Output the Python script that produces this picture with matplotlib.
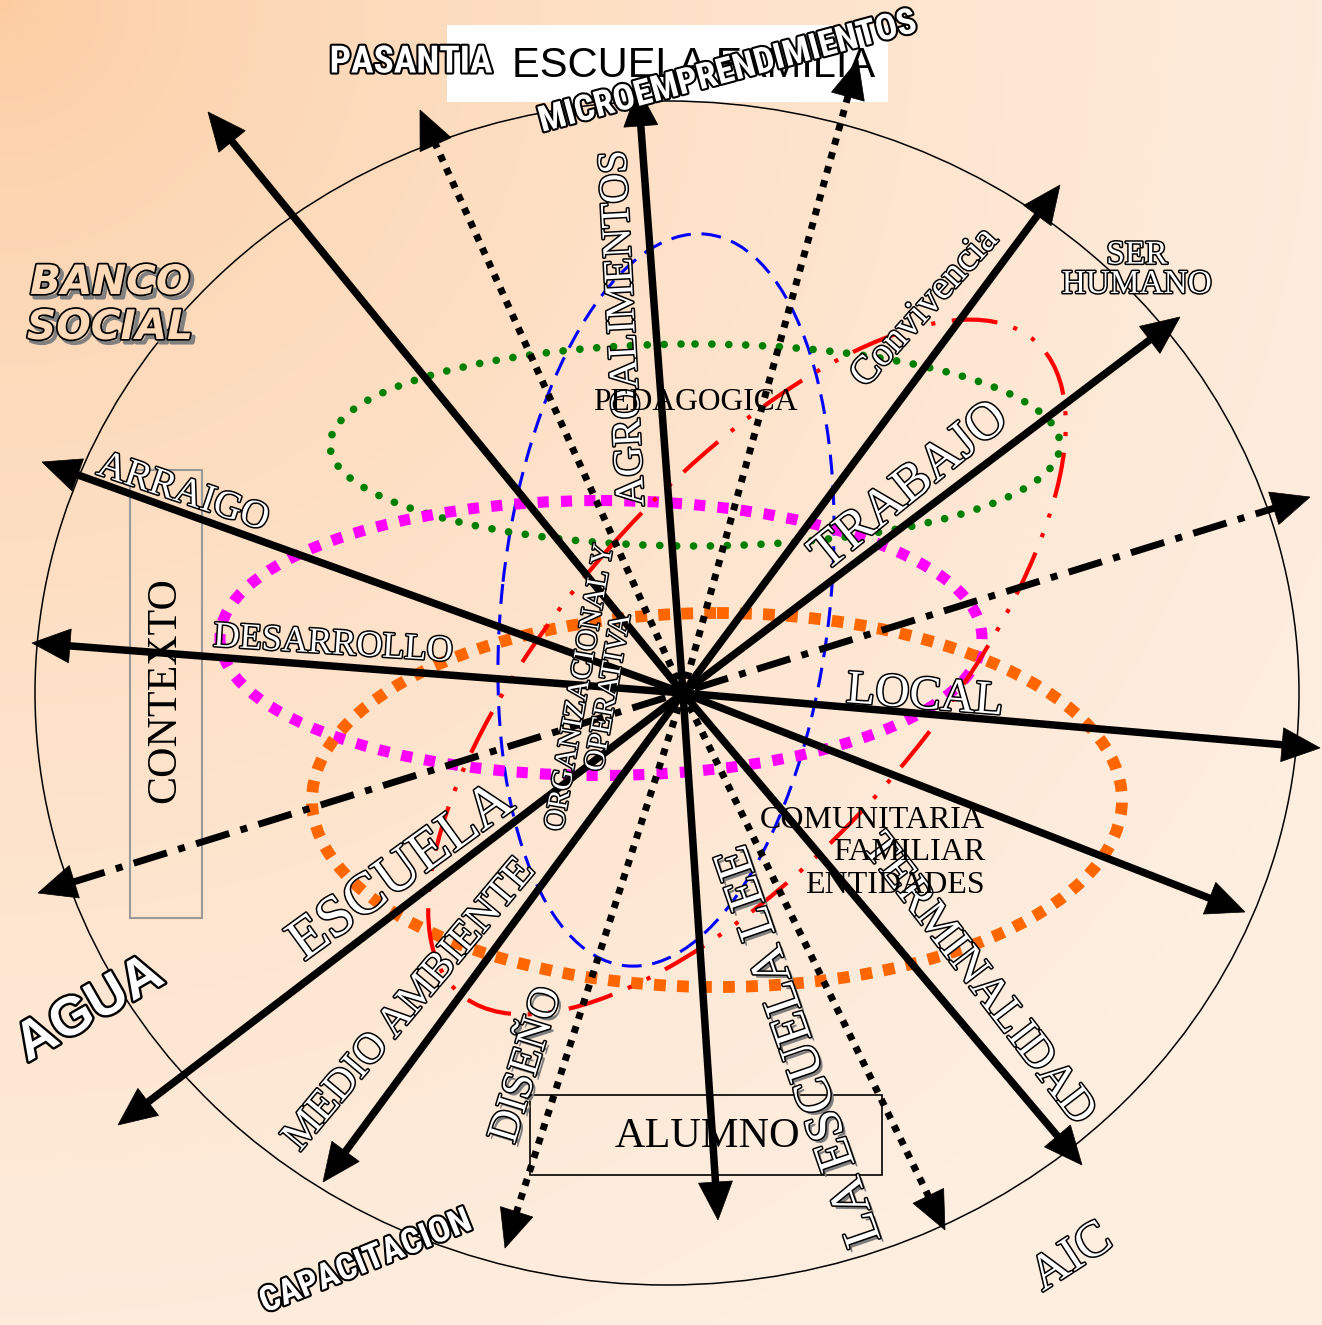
import numpy as np
import matplotlib
matplotlib.use("Agg")
import matplotlib.pyplot as plt
from matplotlib.patches import Ellipse, Rectangle, Polygon
import matplotlib.patheffects as pe
from matplotlib import font_manager as fm

W, H, DPI = 1322, 1325, 100

# ---------------- data ----------------
hub_x, hub_y = 683, 693
solid_tip_x = [208, 638, 1060, 1180, 1320, 1245, 1082, 718, 323, 118, 32, 42]
solid_tip_y = [112, 88, 185, 317, 748, 912, 1165, 1220, 1182, 1125, 643, 462]
dotted_tip_x = [420, 858, 945, 505]
dotted_tip_y = [110, 60, 1230, 1248]
dashdot_tip_x = [1310, 38]
dashdot_tip_y = [497, 893]

ring_names = ["frame", "blue", "green", "magenta", "orange", "red"]
ring_cx = [667, 666, 695, 601, 717, 747]
ring_cy = [693, 600, 445, 638, 800, 667]
ring_w = [1264, 736, 730, 762, 810, 870]
ring_h = [1184, 328, 202, 275, 374, 364]
ring_angle = [0, -83.6, 0, 0, 0, -48.5]

labels = ["PASANTIA", "MICROEMPRENDIMIENTOS", "BANCO", "SOCIAL", "SER\nHUMANO", "AGUA",
          "CAPACITACION", "AIC", "Convivencia", "TRABAJO", "LOCAL", "TERMINALIDAD",
          "LA ESCUELA LEE", "DISEÑO", "MEDIO AMBIENTE", "ESCUELA", "DESARROLLO", "ARRAIGO",
          "AGROALIMENTOS", "ORGANIZACIONAL Y\nOPERATIVA", "PEDAGOGICA",
          "COMUNITARIA\nFAMILIAR\nENTIDADES", "CONTEXTO", "ALUMNO"]
box_title = "ESCUELA FAMILIA"

# ---------------- layout ----------------
label_x = [411, 727, 110, 110, 1137, 90, 366, 1072, 925, 910, 925, 978, 800, 527, 410, 402,
           333, 183, 625, 595, 695, 985, 165, 707]
label_y = [62, 72, 283, 328, 270, 1010, 1262, 1258, 308, 487, 697, 980, 1045, 1065, 1005, 873,
           645, 493, 328, 690, 403, 853, 690, 1137]
label_rot = [0, 15, 0, 0, 0, 30, 22, 33, 48, 39, -4.5, -52.5, 109, 73, 50, 36, -3.6, -18.6,
             93, 80, 0, 0, 90, 0]
label_len = [163, 390, 160, 166, 163, 160, 225, 110, 200, 280, 205, 353, 420, 160, 367, 290,
             240, 178, 356, 290, 205, 225, 225, 185]
label_maxpt = [99, 99, 99, 99, 24, 99, 99, 36, 99, 38, 34, 99, 99, 99, 99, 42, 99, 99, 99, 99,
               99, 99, 99, 99]
label_ha = ["center"] * 21 + ["right", "center", "center"]
label_style = ["word", "word", "banco", "banco", "engr", "agua", "word", "engr", "engr", "engr",
               "engr", "engr", "engr_sh", "engr_sh", "engr", "engr", "engr", "engr", "engr",
               "engr", "plain", "plain", "plain", "plain"]

# pick a condensed sans for the word-art labels if one is installed
_fonts = fm.fontManager.ttflist
_names = {f.name for f in _fonts}
NARROW_KW = dict(family=["Liberation Sans", "DejaVu Sans"], weight="bold")
if "Liberation Sans Narrow" in _names:
    NARROW_KW = dict(family=["Liberation Sans Narrow", "DejaVu Sans"], weight="bold")
elif "Roboto Condensed" in _names:
    NARROW_KW = dict(family=["Roboto Condensed", "DejaVu Sans"], weight="bold")
elif any(f.name == "DejaVu Sans" and f.stretch == "condensed" for f in _fonts):
    NARROW_KW = dict(family=["DejaVu Sans"], weight="bold", stretch="condensed")

BG_MID = (253 / 255, 217 / 255, 184 / 255)

STYLES = {
    "word": dict(color="white", path_effects=[pe.withStroke(linewidth=3, foreground="black")],
                 **NARROW_KW),
    "agua": dict(family=["Liberation Sans", "DejaVu Sans"], weight="bold", color="white",
                 path_effects=[pe.withStroke(linewidth=3.5, foreground="black")]),
    "banco": dict(family=["DejaVu Sans"], weight="bold", style="italic", color=BG_MID,
                  path_effects=[pe.Stroke(offset=(2.5, -2.5), linewidth=3, foreground="#808080"),
                                pe.Stroke(linewidth=2.5, foreground="black"), pe.Normal()]),
    "engr": dict(family=["Liberation Serif", "DejaVu Serif"], color="white",
                 path_effects=[pe.withStroke(linewidth=2.2, foreground="black")]),
    "engr_sh": dict(family=["Liberation Serif", "DejaVu Serif"], color="white",
                    path_effects=[pe.SimplePatchShadow(offset=(2.5, -2.5), shadow_rgbFace="#7f7f7f", alpha=1.0),
                                  pe.Stroke(linewidth=2.2, foreground="black"), pe.Normal()]),
    "plain": dict(family=["Liberation Serif", "DejaVu Serif"], color="black"),
}

RING_STYLE = {
    "frame": dict(edgecolor="black", lw=1.1, linestyle="-"),
    "blue": dict(edgecolor="#0000ff", lw=2.2, linestyle=(0, (6.5, 3.5))),
    "green": dict(edgecolor="#008000", lw=5.5, linestyle=(0, (0.01, 2.2)), capstyle="round"),
    "magenta": dict(edgecolor="#ff00ff", lw=8.0, linestyle=(0, (1, 1.1)), capstyle="butt"),
    "orange": dict(edgecolor="#ff6600", lw=8.5, linestyle=(0, (1, 0.95)), capstyle="butt"),
    "red": dict(edgecolor="#ff0000", lw=3.0, linestyle=(0, (11, 4, 1, 4, 1, 4)), capstyle="butt"),
}

# ---------------- figure ----------------
fig = plt.figure(figsize=(W / DPI, H / DPI), dpi=DPI)
ax = fig.add_axes([0, 0, 1, 1])

yy, xx = np.mgrid[0:H, 0:W]
t = np.clip(np.hypot(xx, yy) / 1500.0, 0, 1) ** 0.6
c0 = np.array([252, 203, 158]) / 255.0
c1 = np.array([254, 238, 224]) / 255.0
ax.imshow(c0 + (c1 - c0) * t[..., None], extent=(0, W, H, 0), zorder=0, aspect="auto")
ax.set_xlim(0, W)
ax.set_ylim(H, 0)
ax.axis("off")

# boxes
ax.add_patch(Rectangle((447, 25), 441, 77, facecolor="white", edgecolor="none", zorder=1))
ax.add_patch(Rectangle((130, 470), 72, 448, fill=False, edgecolor="#999999", lw=1.5, zorder=2))
ax.add_patch(Rectangle((530, 1095), 352, 80, fill=False, edgecolor="black", lw=1.2, zorder=2))
ax.text(512, 66, box_title, ha="left", va="center", fontsize=30,
        family=["Liberation Sans", "DejaVu Sans"], color="black", zorder=4)

# rings
for name, cx, cy, w, h, a in zip(ring_names, ring_cx, ring_cy, ring_w, ring_h, ring_angle):
    st = dict(RING_STYLE[name])
    cap = st.pop("capstyle", None)
    e = Ellipse((cx, cy), w, h, angle=a, fill=False, zorder=3, **st)
    if cap:
        e.set_capstyle(cap)
    ax.add_patch(e)

HEAD_L, HEAD_HW = 38, 17
LW = 5.4


def head(x0, y0, x1, y1):
    u = np.array([x1 - x0, y1 - y0], float)
    u /= np.hypot(*u)
    bx, by = x1 - u[0] * HEAD_L, y1 - u[1] * HEAD_L
    n = np.array([-u[1], u[0]])
    ax.add_patch(Polygon([(x1, y1), (bx + n[0] * HEAD_HW, by + n[1] * HEAD_HW),
                          (bx - n[0] * HEAD_HW, by - n[1] * HEAD_HW)],
                         closed=True, facecolor="black", edgecolor="black", lw=0.5, zorder=6))
    return bx + u[0] * 3, by + u[1] * 3


for tx, ty in zip(solid_tip_x, solid_tip_y):
    bx, by = head(hub_x, hub_y, tx, ty)
    ax.plot([hub_x, bx], [hub_y, by], color="black", lw=LW, solid_capstyle="butt", zorder=5)

for tx, ty in zip(dotted_tip_x, dotted_tip_y):
    bx, by = head(hub_x, hub_y, tx, ty)
    ax.plot([hub_x, bx], [hub_y, by], color="black", lw=5.0, linestyle=(0, (1, 1.1)),
            dash_capstyle="butt", zorder=5)

b1 = head(dashdot_tip_x[1], dashdot_tip_y[1], dashdot_tip_x[0], dashdot_tip_y[0])
b2 = head(dashdot_tip_x[0], dashdot_tip_y[0], dashdot_tip_x[1], dashdot_tip_y[1])
ax.plot([b2[0], b1[0]], [b2[1], b1[1]], color="black", lw=5.0, linestyle=(0, (5, 1.7, 1, 1.7)),
        dash_capstyle="butt", zorder=5)

# labels
renderer = fig.canvas.get_renderer()
for s, x, y, rot, ln, mx, ha, st in zip(labels, label_x, label_y, label_rot, label_len,
                                         label_maxpt, label_ha, label_style):
    kw = STYLES[st]
    txt = ax.text(x, y, s, ha=ha, va="center", multialignment=ha, rotation=0,
                  rotation_mode="anchor", fontsize=20, zorder=8,
                  linespacing=0.95 if s.startswith("SER") else 1.15, **kw)
    bb = txt.get_window_extent(renderer)
    size = min(20 * ln / bb.width, mx)
    txt.set_fontsize(size)
    txt.set_rotation(rot)

fig.savefig("out.png", dpi=DPI)
